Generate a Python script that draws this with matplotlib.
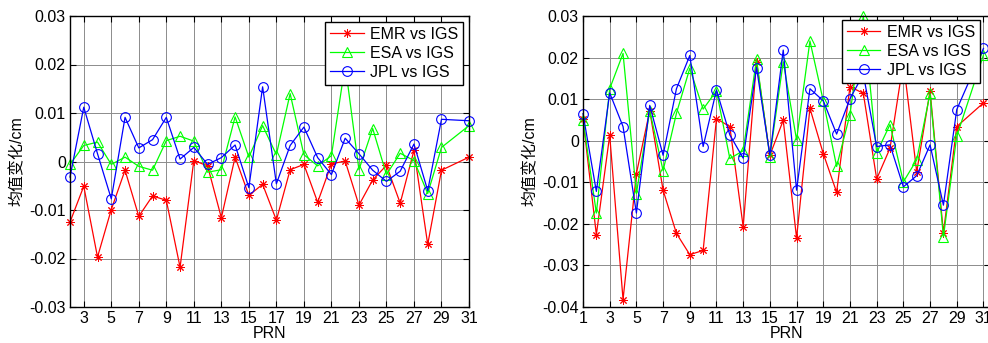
import matplotlib
matplotlib.use('Agg')
import matplotlib.pyplot as plt

plt.rcParams['font.family'] = ['Liberation Sans', 'Noto Sans CJK SC']
plt.rcParams['font.size'] = 11.5
plt.rcParams['axes.unicode_minus'] = False

# left panel: PRN 2..29, 31
prn_l = [2, 3, 4, 5, 6, 7, 8, 9, 10, 11, 12, 13, 14, 15, 16, 17, 18, 19, 20,
         21, 22, 23, 24, 25, 26, 27, 28, 29, 31]
emr_l = [-0.0125, -0.0051, -0.0197, -0.0099, -0.0018, -0.0113, -0.0071, -0.0080,
         -0.0218, 0.0002, -0.0009, -0.0116, 0.0009, -0.0070, -0.0047, -0.0121,
         -0.0017, -0.0006, -0.0084, -0.0005, 0.0001, -0.0090, -0.0038, -0.0008,
         -0.0086, 0.0023, -0.0171, -0.0018, 0.0009]
esa_l = [-0.0006, 0.0033, 0.0040, -0.0006, 0.0009, -0.0010, -0.0018, 0.0043,
         0.0052, 0.0042, -0.0022, -0.0017, 0.0092, 0.0009, 0.0074, 0.0014,
         0.0140, 0.0014, -0.0009, 0.0012, 0.0200, -0.0017, 0.0068, -0.0027,
         0.0017, 0.0002, -0.0066, 0.0029, 0.0074]
jpl_l = [-0.0032, 0.0112, 0.0016, -0.0077, 0.0091, 0.0028, 0.0045, 0.0091,
         0.0005, 0.0029, -0.0006, 0.0008, 0.0034, -0.0054, 0.0154, -0.0046,
         0.0033, 0.0071, 0.0008, -0.0027, 0.0048, 0.0016, -0.0018, -0.0041,
         -0.0020, 0.0036, -0.0060, 0.0087, 0.0084]

# right panel: PRN 1..29, 31
prn_r = [1, 2, 3, 4, 5, 6, 7, 8, 9, 10, 11, 12, 13, 14, 15, 16, 17, 18, 19, 20,
         21, 22, 23, 24, 25, 26, 27, 28, 29, 31]
emr_r = [0.0053, -0.0226, 0.0013, -0.0382, -0.0079, 0.0072, -0.0119, -0.0223,
         -0.0274, -0.0264, 0.0053, 0.0034, -0.0207, 0.0190, -0.0035, 0.0049,
         -0.0234, 0.0078, -0.0031, -0.0124, 0.0130, 0.0114, -0.0092, -0.0018,
         0.0190, -0.0075, 0.0120, -0.0221, 0.0034, 0.0091]
esa_r = [0.0050, -0.0174, 0.0125, 0.0210, -0.0127, 0.0072, -0.0072, 0.0066,
         0.0174, 0.0076, 0.0120, -0.0043, -0.0024, 0.0196, -0.0039, 0.0190,
         0.0002, 0.0240, 0.0096, -0.0062, 0.0063, 0.0300, -0.0029, 0.0039,
         -0.0099, -0.0046, 0.0114, -0.0231, 0.0011, 0.0206]
jpl_r = [0.0065, -0.0122, 0.0115, 0.0034, -0.0174, 0.0085, -0.0035, 0.0125,
         0.0205, -0.0014, 0.0122, 0.0014, -0.0042, 0.0176, -0.0035, 0.0218,
         -0.0119, 0.0125, 0.0096, 0.0016, 0.0101, 0.0160, -0.0014, -0.0010,
         -0.0111, -0.0084, -0.0010, -0.0155, 0.0075, 0.0222]

labels = ['EMR vs IGS', 'ESA vs IGS', 'JPL vs IGS']
ylabel = '均值变化/cm'


def draw(ax, prn, emr, esa, jpl, xlim, xticks, yticks, legend_anchor):
    ax.plot(prn, emr, color='r', lw=0.9, marker=(8, 2, 0), ms=6, mew=0.7,
            label=labels[0], clip_on=False)
    ax.plot(prn, esa, color=(0, 1, 0), lw=0.9, marker='^', ms=7, mew=0.8,
            mfc='none', label=labels[1], clip_on=False)
    ax.plot(prn, jpl, color='b', lw=0.9, marker='o', ms=7, mew=0.8,
            mfc='none', label=labels[2], clip_on=False)
    ax.set_xlim(xlim)
    ax.set_ylim(yticks[0], yticks[-1])
    ax.set_xticks(xticks)
    ax.set_yticks(yticks)
    ax.set_yticklabels(['0' if abs(v) < 1e-9 else ('%.2f' % v) for v in yticks])
    ax.grid(True, color='0.55', ls='-', lw=0.7)
    ax.tick_params(direction='in', top=True, right=True, length=4, width=0.8,
                   pad=3, labelsize=11.5)
    for s in ax.spines.values():
        s.set_linewidth(1.0)
    ax.set_xlabel('PRN', labelpad=0)
    ax.set_ylabel(ylabel, labelpad=3)
    leg = ax.legend(loc='upper right', bbox_to_anchor=legend_anchor,
                    fancybox=False, framealpha=1, edgecolor='k',
                    handlelength=2.1, labelspacing=0.25, borderpad=0.3,
                    handletextpad=0.4, borderaxespad=0, fontsize=11.5)
    leg.get_frame().set_linewidth(1.0)


fig = plt.figure(figsize=(9.88, 3.43), dpi=100)
ax1 = fig.add_axes([70 / 988, 36 / 343, 399 / 988, 291 / 343])
ax2 = fig.add_axes([583 / 988, 36 / 343, 407 / 988, 291 / 343])

draw(ax1, prn_l, emr_l, esa_l, jpl_l, (2, 31), list(range(3, 32, 2)),
     [-0.03, -0.02, -0.01, 0, 0.01, 0.02, 0.03], (0.985, 0.979))
draw(ax2, prn_r, emr_r, esa_r, jpl_r, (1, 31.49), list(range(1, 32, 2)),
     [-0.04, -0.03, -0.02, -0.01, 0, 0.01, 0.02, 0.03], (0.975, 0.986))

fig.savefig('out.png', dpi=100)
